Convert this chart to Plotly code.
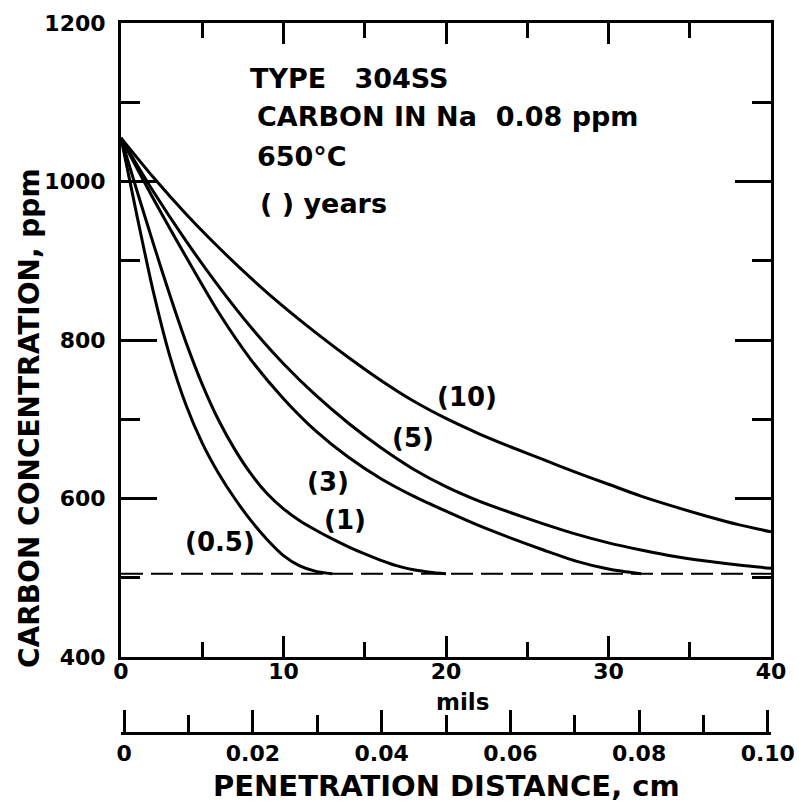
import plotly.graph_objects as go

# ---------------- data ----------------
mils_05 = [0, 1, 2, 3, 4, 5, 6, 7, 8, 9, 10, 11, 12, 13]
ppm_05 = [1055, 955, 860, 780, 718, 670, 632, 600, 572, 548, 528, 515, 508, 505]

mils_1 = [0, 1, 2, 3, 4, 5, 6, 7, 8, 9, 10, 11, 12, 13, 14, 15, 16, 17, 18, 19, 20]
ppm_1 = [1055, 987, 921, 857, 797, 744, 699, 662, 631, 606, 587, 572, 560, 549, 539, 530, 522, 515, 510, 507, 505]

mils_3 = [0, 2, 4, 6, 8, 10, 12, 14, 16, 18, 20, 22, 24, 26, 28, 30, 32]
ppm_3 = [1055, 978, 905, 835, 775, 726, 685, 652, 625, 603, 584, 566, 550, 535, 521, 511, 505]

mils_5 = [0, 2, 4, 6, 8, 10, 12, 14, 16, 18, 20, 22, 24, 26, 28, 30, 32, 34, 36, 38, 40]
ppm_5 = [1055, 987, 925, 868, 816, 770, 730, 695, 664, 637, 615, 597, 582, 568, 555, 544, 535, 527, 521, 516, 512]

mils_10 = [0, 2, 4, 6, 8, 10, 12, 14, 16, 18, 20, 22, 24, 26, 28, 30, 32, 34, 36, 38, 40]
ppm_10 = [1055, 1005, 959, 917, 878, 842, 809, 778, 749, 723, 701, 682, 665, 649, 633, 618, 603, 590, 578, 567, 558]

baseline_mils = [0, 40]
baseline_ppm = [505, 505]

curve_labels = ["(0.5)", "(1)", "(3)", "(5)", "(10)"]

y_ticks = [400, 600, 800, 1000, 1200]
x_ticks_mils = [0, 10, 20, 30, 40]
cm_ticks = [0, 0.02, 0.04, 0.06, 0.08, 0.10]
cm_tick_text = ["0", "0.02", "0.04", "0.06", "0.08", "0.10"]

info_lines = ["TYPE   304SS", "CARBON IN Na  0.08 ppm", "650°C", "( ) years"]

# ---------------- layout helpers ----------------
W, H = 799, 802
L, R, T, B = 121, 28, 23, 69
PW, PH = W - L - R, H - T - B


def px(xp):
    return (xp - L) / PW


def py(yp):
    return (H - B - yp) / PH


FONT = "DejaVu Sans"
BLACK = "black"

fig = go.Figure()

line_style = dict(color=BLACK, width=3, shape="spline", smoothing=0.8)
for xs, ys in [(mils_05, ppm_05), (mils_1, ppm_1), (mils_3, ppm_3),
               (mils_5, ppm_5), (mils_10, ppm_10)]:
    fig.add_trace(go.Scatter(x=xs, y=ys, mode="lines", line=line_style,
                             showlegend=False, hoverinfo="skip"))

fig.add_trace(go.Scatter(x=baseline_mils, y=baseline_ppm, mode="lines",
                         line=dict(color=BLACK, width=2, dash="22px,8px"),
                         showlegend=False, hoverinfo="skip"))

# helper trace so the cm axis exists
fig.add_trace(go.Scatter(x=[cm_ticks[0], cm_ticks[-1]], y=baseline_ppm,
                         xaxis="x2", mode="markers",
                         marker=dict(opacity=0, size=1),
                         showlegend=False, hoverinfo="skip"))

tickfont = dict(family=FONT, size=22, color=BLACK, weight="bold")

fig.update_layout(
    width=W, height=H,
    margin=dict(l=L, r=R, t=T, b=B, pad=0, autoexpand=False),
    paper_bgcolor="white", plot_bgcolor="white",
    showlegend=False,
    xaxis=dict(
        range=[0, 40], domain=[0, 1], anchor="y", automargin=False,
        showline=True, linewidth=3, linecolor=BLACK, mirror="ticks",
        ticks="inside", ticklen=21, tickwidth=2.5, tickcolor=BLACK,
        tickvals=x_ticks_mils, tickfont=tickfont, ticklabelstandoff=-7,
        minor=dict(dtick=5, tick0=0, ticks="inside", ticklen=15,
                   tickwidth=2.5, tickcolor=BLACK, showgrid=False),
        showgrid=False, zeroline=False,
    ),
    yaxis=dict(
        range=[400, 1200], domain=[py(657), 1], anchor="x", automargin=False,
        showline=True, linewidth=3, linecolor=BLACK, mirror="ticks",
        ticks="inside", ticklen=36, tickwidth=2.5, tickcolor=BLACK,
        tickvals=y_ticks, tickfont=tickfont, ticklabelstandoff=8,
        minor=dict(dtick=100, tick0=0, ticks="inside", ticklen=19,
                   tickwidth=2.5, tickcolor=BLACK, showgrid=False),
        showgrid=False, zeroline=False,
    ),
    xaxis2=dict(
        overlaying="x", anchor="free", position=0, side="bottom", automargin=False,
        range=[-0.0005, 0.1005],
        showline=True, linewidth=2.5, linecolor=BLACK,
        ticks="inside", ticklen=22, tickwidth=2.5, tickcolor=BLACK,
        tickvals=cm_ticks, ticktext=cm_tick_text, tickfont=tickfont,
        ticklabelstandoff=0,
        minor=dict(dtick=0.01, tick0=0, ticks="inside", ticklen=17,
                   tickwidth=2.5, tickcolor=BLACK, showgrid=False),
        showgrid=False, zeroline=False,
    ),
)

ann = []
# info block
info_pos = [(248, 78), (255, 116), (255, 157), (258, 203)]
for txt, (xx, yy) in zip(info_lines, info_pos):
    ann.append(dict(text=txt, x=px(xx), y=py(yy), xanchor="left", yanchor="middle",
                    font=dict(family=FONT, size=27, color=BLACK, weight="bold")))

# curve labels
label_pos = [(220, 542), (345, 520), (328, 482), (413, 438), (467, 397)]
for txt, (xx, yy) in zip(curve_labels, label_pos):
    ann.append(dict(text=txt, x=px(xx), y=py(yy), xanchor="center", yanchor="middle",
                    font=dict(family=FONT, size=26, color=BLACK, weight="bold")))

# axis titles
ann.append(dict(text="CARBON CONCENTRATION, ppm", x=px(30), y=py(418), textangle=-90,
                xanchor="center", yanchor="middle",
                font=dict(family=FONT, size=28, color=BLACK, weight="bold")))
ann.append(dict(text="mils", x=px(462), y=py(702), xanchor="center", yanchor="middle",
                font=dict(family=FONT, size=23, color=BLACK, weight="bold")))
ann.append(dict(text="PENETRATION DISTANCE, cm", x=px(447), y=py(786),
                xanchor="center", yanchor="middle",
                font=dict(family=FONT, size=29, color=BLACK, weight="bold")))

for a in ann:
    a.update(xref="paper", yref="paper", showarrow=False)
fig.update_layout(annotations=ann)

fig.write_html("out.html")
